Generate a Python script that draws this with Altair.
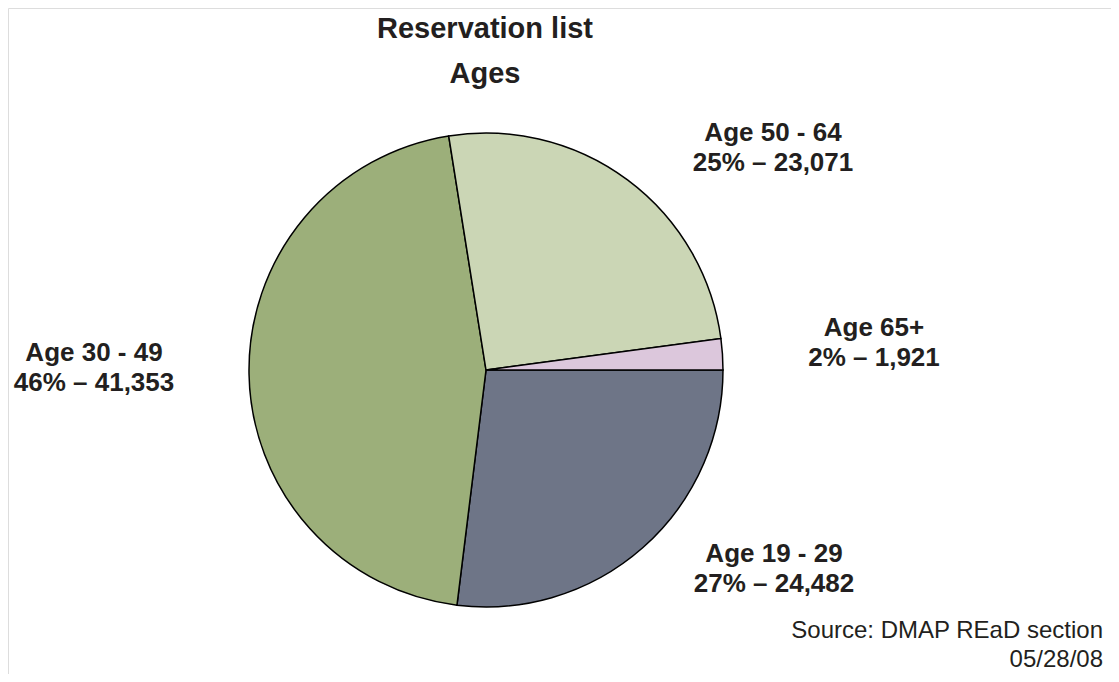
import altair as alt
import pandas as pd
import math

# Data
categories = ["Age 19 - 29", "Age 30 - 49", "Age 50 - 64", "Age 65+"]
counts = [24482, 41353, 23071, 1921]
percents = ["27%", "46%", "25%", "2%"]
colors = ["#6e7587", "#9caf7a", "#cbd6b5", "#dcc7dc"]

title_lines = ["Reservation list", "Ages"]
source_lines = ["Source: DMAP REaD section", "05/28/08"]

W, H = 1103, 666
CX, CY, R = 478, 362, 237
TXT = "#231f20"
FONT = "Liberation Sans"

df = pd.DataFrame({
    "cat": categories,
    "count": counts,
    "order": list(range(len(categories))),
})

pie = alt.Chart(df).mark_arc(stroke="black", strokeWidth=1.5, radius=R).encode(
    theta=alt.Theta("count:Q", stack=True,
                    scale=alt.Scale(range=[math.pi / 2, math.pi / 2 + 2 * math.pi])),
    color=alt.Color("cat:N", scale=alt.Scale(domain=categories, range=colors), legend=None),
    order=alt.Order("order:Q"),
    x=alt.value(CX),
    y=alt.value(CY),
)

# label placement (style, not data): centre x, first-line baseline y (chart coords)
label_pos = {
    "Age 19 - 29": (766, 554),
    "Age 30 - 49": (86, 353),
    "Age 50 - 64": (765, 133),
    "Age 65+": (866, 328),
}
LINE = 30

rows = []
for c, n, p in zip(categories, counts, percents):
    x, y = label_pos[c]
    rows.append({"t": c, "x": x, "y": y})
    rows.append({"t": f"{p} \u2013 {n:,}", "x": x, "y": y + LINE})
lab_df = pd.DataFrame(rows)

xs = alt.Scale(domain=[0, W], range=[0, W])
ys = alt.Scale(domain=[0, H], range=[0, H])

labels = alt.Chart(lab_df).mark_text(
    font=FONT, fontSize=26, fontWeight="bold", color=TXT, align="center", baseline="alphabetic"
).encode(
    x=alt.X("x:Q", scale=xs, axis=None),
    y=alt.Y("y:Q", scale=ys, axis=None),
    text="t:N",
)

title_df = pd.DataFrame({"t": title_lines, "x": [477, 477], "y": [30, 75]})
title = alt.Chart(title_df).mark_text(
    font=FONT, fontSize=29, fontWeight="bold", color=TXT, align="center", baseline="alphabetic"
).encode(
    x=alt.X("x:Q", scale=xs, axis=None),
    y=alt.Y("y:Q", scale=ys, axis=None),
    text="t:N",
)

src_df = pd.DataFrame({"t": source_lines, "x": [1095, 1095], "y": [630, 659]})
source = alt.Chart(src_df).mark_text(
    font=FONT, fontSize=24, color=TXT, align="right", baseline="alphabetic"
).encode(
    x=alt.X("x:Q", scale=xs, axis=None),
    y=alt.Y("y:Q", scale=ys, axis=None),
    text="t:N",
)

chart = alt.layer(pie, labels, title, source).properties(
    width=W, height=H, padding=0, autosize=alt.AutoSizeParams(type="none")
).configure_view(stroke=None).configure(background="white")

chart.save("out.html", embed_options={"renderer": "svg", "actions": False})
